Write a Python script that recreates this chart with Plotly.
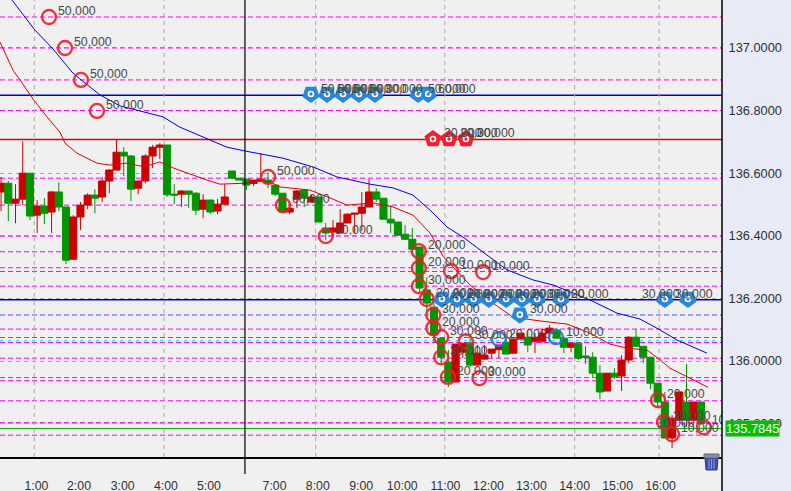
"""
Intraday candlestick chart with trade markers and price levels.
"""

import plotly.graph_objects as go

FONT = "Liberation Sans"

# candles, one per bar
opens = [136.540, 136.568, 136.504, 136.517, 136.600, 136.466, 136.495, 136.476, 136.540, 136.492,
         136.325, 136.460, 136.498, 136.530, 136.524, 136.575, 136.610, 136.667, 136.655, 136.552,
         136.575, 136.655, 136.683, 136.690, 136.533, 136.533, 136.543, 136.536, 136.485, 136.514,
         136.479, 136.501, 136.607, 136.584, 136.581, 136.567, 136.575, 136.578, 136.562, 136.536,
         136.476, 136.517, 136.546, 136.508, 136.524, 136.425, 136.412, 136.409, 136.441, 136.469,
         136.472, 136.492, 136.540, 136.520, 136.453, 136.444, 136.405, 136.389, 136.364, 136.227,
         136.172, 136.073, 135.996, 135.933, 136.028, 136.057, 135.987, 136.006, 136.025, 136.036,
         136.060, 136.025, 136.070, 136.076, 136.063, 136.063, 136.089, 136.099, 136.073, 136.044,
         136.057, 136.016, 136.012, 135.961, 135.904, 135.961, 135.952, 136.003, 136.076, 136.047,
         136.012, 135.929, 135.869, 135.754, 135.811, 135.869, 135.811, 135.869]
highs = [136.588, 136.575, 136.565, 136.702, 136.600, 136.514, 136.520, 136.543, 136.571, 136.492,
         136.466, 136.508, 136.536, 136.549, 136.588, 136.613, 136.706, 136.683, 136.658, 136.575,
         136.661, 136.690, 136.696, 136.690, 136.565, 136.546, 136.543, 136.540, 136.533, 136.517,
         136.517, 136.565, 136.607, 136.584, 136.581, 136.578, 136.664, 136.603, 136.562, 136.536,
         136.501, 136.546, 136.546, 136.533, 136.524, 136.441, 136.450, 136.485, 136.472, 136.472,
         136.540, 136.581, 136.552, 136.520, 136.498, 136.444, 136.434, 136.425, 136.364, 136.268,
         136.185, 136.076, 136.035, 136.054, 136.057, 136.083, 136.051, 136.051, 136.038, 136.051,
         136.073, 136.073, 136.089, 136.099, 136.089, 136.105, 136.115, 136.105, 136.073, 136.057,
         136.057, 136.047, 136.028, 135.987, 135.961, 135.977, 136.019, 136.079, 136.102, 136.047,
         136.012, 135.929, 135.901, 135.827, 135.901, 135.990, 135.869, 135.869]
lows = [136.479, 136.447, 136.440, 136.498, 136.450, 136.409, 136.437, 136.409, 136.479, 136.310,
        136.325, 136.418, 136.485, 136.472, 136.508, 136.536, 136.610, 136.591, 136.511, 136.533,
        136.568, 136.616, 136.645, 136.524, 136.501, 136.492, 136.489, 136.466, 136.456, 136.469,
        136.469, 136.501, 136.584, 136.578, 136.546, 136.559, 136.575, 136.552, 136.527, 136.472,
        136.469, 136.488, 136.492, 136.508, 136.444, 136.386, 136.396, 136.409, 136.441, 136.409,
        136.415, 136.492, 136.508, 136.453, 136.409, 136.399, 136.386, 136.354, 136.220, 136.156,
        136.057, 135.993, 135.917, 135.933, 136.009, 135.980, 135.987, 136.003, 136.009, 136.009,
        136.022, 136.025, 136.070, 136.028, 136.025, 136.057, 136.063, 136.073, 136.025, 136.028,
        136.003, 135.990, 135.949, 135.878, 135.904, 135.942, 135.904, 135.993, 136.047, 135.993,
        135.910, 135.853, 135.754, 135.722, 135.811, 135.789, 135.811, 135.795]
closes = [136.568, 136.504, 136.517, 136.600, 136.463, 136.495, 136.472, 136.540, 136.492, 136.322,
          136.460, 136.498, 136.530, 136.520, 136.575, 136.610, 136.667, 136.655, 136.549, 136.575,
          136.655, 136.683, 136.690, 136.531, 136.530, 136.543, 136.533, 136.482, 136.514, 136.476,
          136.501, 136.524, 136.584, 136.578, 136.562, 136.578, 136.581, 136.568, 136.533, 136.476,
          136.488, 136.543, 136.520, 136.524, 136.444, 136.409, 136.425, 136.441, 136.469, 136.472,
          136.492, 136.540, 136.517, 136.453, 136.441, 136.402, 136.389, 136.357, 136.233, 136.185,
          136.083, 136.012, 135.933, 136.054, 136.057, 135.987, 136.025, 136.019, 136.038, 136.051,
          136.022, 136.070, 136.089, 136.051, 136.076, 136.089, 136.105, 136.073, 136.044, 136.057,
          136.009, 136.012, 135.961, 135.901, 135.961, 135.949, 136.003, 136.076, 136.047, 136.012,
          135.929, 135.869, 135.754, 135.817, 135.901, 135.811, 135.869, 135.801]

# moving averages, read at sample bars
ma_slow_x = [1.51, 4.70, 7.19, 9.83, 10.93, 13.71, 16.48, 18.84, 22.44, 24.79, 28.54, 31.31, 33.8,
             35.88, 39.07, 43.23, 46.56, 51.13, 54.32, 57.09, 59.45, 61.8, 64.02, 66.79, 70.12,
             73.72, 76.5, 81.62, 85.36, 88.55, 90.9, 93.68, 97.84]
ma_slow_y = [137.153, 137.057, 136.997, 136.923, 136.901, 136.850, 136.815, 136.802, 136.780, 136.747,
             136.709, 136.683, 136.671, 136.661, 136.648, 136.620, 136.588, 136.565, 136.553, 136.530,
             136.482, 136.428, 136.396, 136.348, 136.291, 136.259, 136.243, 136.195, 136.153, 136.134,
             136.105, 136.067, 136.025]
ma_fast_x = [-0.15, 1.65, 2.62, 4.42, 6.36, 8.16, 8.86, 10.52, 13.29, 15.09, 17.45, 19.25, 20.64,
             22.02, 23.82, 26.18, 28.54, 30.34, 33.8, 35.88, 37.27, 38.66, 42.81, 45.59, 47.94,
             51.54, 54.32, 57.09, 59.45, 61.24, 64.99, 68.18, 70.95, 74.69, 78.43, 81.62, 84.39,
             86.75, 89.52, 91.05, 92.71, 95.48, 97.97]
ma_fast_y = [137.019, 136.929, 136.898, 136.837, 136.780, 136.731, 136.696, 136.664, 136.632, 136.626,
             136.632, 136.623, 136.626, 136.636, 136.617, 136.597, 136.578, 136.565, 136.568, 136.575,
             136.572, 136.556, 136.546, 136.521, 136.498, 136.505, 136.492, 136.466, 136.409, 136.335,
             136.243, 136.185, 136.140, 136.128, 136.118, 136.089, 136.054, 136.041, 136.035, 136.009,
             135.977, 135.945, 135.916]

# price levels
magenta_levels = [137.099, 137.000, 136.898, 136.800, 136.584, 136.498, 136.399, 136.349, 136.298,
                  136.286, 136.239, 136.147, 136.102, 136.075, 136.059, 136.009, 135.947, 135.937,
                  135.873, 135.803, 135.763]
cyan_levels = [136.147, 136.065]
blue_levels = [136.849, 136.196]
red_levels = [136.708]
last_price = 135.7845

# closed trades, red and blue rings
ring_x = [6.64, 8.86, 11.07, 13.29, 37.0, 39.07, 45.0, 57.9, 57.9, 57.9, 59.0, 59.9, 59.9, 61.0, 61.0,
          61.94, 62.36, 66.8, 64.4, 66.3, 91.05, 91.88, 93.0, 97.4]
ring_y = [137.099, 137.000, 136.898, 136.799, 136.588, 136.498, 136.399, 136.351, 136.297, 136.239,
          136.198, 136.147, 136.105, 136.076, 136.012, 135.949, 136.287, 136.284, 136.063, 135.945,
          135.875, 135.805, 135.766, 135.788]
ring_text = ["50,000", "50,000", "50,000", "50,000", "50,000", "60,000", "30,000", "20,000", "20,000",
             "30,000", "20,000", "30,000", "20,000", "30,000", "30,000", "20,000", "10,000", "10,000",
             "30,000", "30,000", "20,000", "30,000", "10,000"]
blue_ring_x = [69.0, 76.9]
blue_ring_y = [136.070, 136.076]
blue_ring_text = ["20,000", "10,000"]

# labels without a ring of their own; the last one runs into the axis and is clipped
hidden_label_x = [91.05]
hidden_label_y = [135.803]
hidden_label_text = ["10,000"]
clipped_label_x = [98.5]
clipped_label_y = [135.809]
clipped_label_text = ["10,000"]

# open orders, pins
pin_x = [42.95, 45.17, 47.39, 49.6, 51.82, 57.8, 59.2,
         61.1, 63.2, 65.5, 67.6, 70.0, 72.2, 74.3, 77.6, 71.9]
pin_y = [136.853] * 7 + [136.198] * 8 + [136.148]
pin_text = ["50,000", "50,000", "50,000", "50,000", "30,000", "50,000", "60,000",
            "20,000", "20,000", "20,000", "20,000", "20,000", "20,000", "30,000", "20,000", "30,000"]
pin_right_x = [92.0, 95.2]
pin_right_y = [136.198, 136.198]
pin_right_text = ["30,000", "30,000"]
pin_right_dx = [-25, -15]
house_x = [59.86, 62.08, 64.43]
house_y = [136.709, 136.709, 136.709]
house_text = ["20,000", "20,000", "30,000"]

# axes
tick_labels = ["1:00", "2:00", "3:00", "4:00", "5:00", "7:00", "8:00", "9:00", "10:00", "11:00",
               "12:00", "13:00", "14:00", "15:00", "16:00"]
tick_bars = [4.9, 10.8, 16.85, 22.85, 28.8, 37.9, 43.9, 49.9, 55.6, 61.6, 67.55, 73.5, 79.5, 85.45, 91.4]
grid_bars = [4.6, 22.6, 43.6, 61.5, 79.5, 91.2]
cursor_bar = 33.8
price_ticks = [137.0, 136.8, 136.6, 136.4, 136.2, 136.0, 135.8]
x_range = [-0.15, 99.92]
y_range = [135.6933, 137.1533]

bars = list(range(len(opens)))


def add_labels(fig, xs, ys, texts, dx, dy):
    """Small quantity labels placed beside the markers."""
    offsets = dx if isinstance(dx, list) else [dx] * len(xs)
    for x, y, text, off in zip(xs, ys, texts, offsets):
        fig.add_annotation(
            x=x, y=y, text=text, showarrow=False, xanchor='left', yanchor='middle',
            xshift=off, yshift=dy, font=dict(family=FONT, size=12.3, color='#484848')
        )


def add_pins(fig, xs, ys, color, angle):
    """Pin shaped order marker with a ring in the middle."""
    fig.add_trace(go.Scatter(
        x=xs, y=ys, mode='markers', hoverinfo='skip', cliponaxis=False,
        marker=dict(symbol='pentagon', size=18, color=color, angle=angle, line=dict(width=0))
    ))
    fig.add_trace(go.Scatter(
        x=xs, y=ys, mode='markers', hoverinfo='skip',
        marker=dict(symbol='circle', size=5, color=color, line=dict(color='white', width=1.6))
    ))


def add_level(fig, level, color, width, dash='solid'):
    """Horizontal price level across the whole plot."""
    fig.add_shape(type='line', xref='x', yref='y', x0=x_range[0], x1=x_range[1], y0=level, y1=level,
                  layer='between', line=dict(color=color, width=width, dash=dash))


fig = go.Figure()

fig.add_trace(go.Candlestick(
    x=bars, open=opens, high=highs, low=lows, close=closes, hoverinfo='skip',
    increasing=dict(line=dict(color='#cc0000', width=1), fillcolor='#cc0000'),
    decreasing=dict(line=dict(color='#009600', width=1), fillcolor='#009600'),
    whiskerwidth=0
))

fig.add_trace(go.Scatter(x=ma_slow_x, y=ma_slow_y, mode='lines', hoverinfo='skip',
                         line=dict(color='#0000e6', width=1)))
fig.add_trace(go.Scatter(x=ma_fast_x, y=ma_fast_y, mode='lines', hoverinfo='skip',
                         line=dict(color='#e60000', width=1)))

fig.add_trace(go.Scatter(
    x=ring_x, y=ring_y, mode='markers', hoverinfo='skip',
    marker=dict(symbol='circle', size=14, color='rgba(0,0,0,0)',
                line=dict(color='rgba(240,28,40,0.9)', width=2.3))
))
fig.add_trace(go.Scatter(
    x=blue_ring_x, y=blue_ring_y, mode='markers', hoverinfo='skip',
    marker=dict(symbol='circle', size=14, color='rgba(0,0,0,0)',
                line=dict(color='rgba(30,120,210,0.9)', width=2.3))
))

add_pins(fig, pin_x + pin_right_x, pin_y + pin_right_y, '#2b87d8', 180)
add_pins(fig, house_x, house_y, '#f2202e', 0)

fig.add_trace(go.Scatter(
    x=clipped_label_x, y=clipped_label_y, mode='text', text=clipped_label_text, hoverinfo='skip',
    textposition='middle right', textfont=dict(family=FONT, size=12.3, color='#484848')
))

add_labels(fig, ring_x, ring_y, ring_text, 7, 6)
add_labels(fig, blue_ring_x, blue_ring_y, blue_ring_text, 8, 5)
add_labels(fig, hidden_label_x, hidden_label_y, hidden_label_text, -3, 0)
add_labels(fig, pin_x, pin_y, pin_text, 8, 5.5)
add_labels(fig, pin_right_x, pin_right_y, pin_right_text, pin_right_dx, 5.5)
add_labels(fig, house_x, house_y, house_text, 9, 6)

# horizontal levels
for level in magenta_levels:
    add_level(fig, level, '#ff00ff', 1, '5px,3px')
for level in cyan_levels:
    add_level(fig, level, '#00e8e8', 1, '3px,5px')
for level in blue_levels:
    add_level(fig, level, '#0000e0', 1.5)
for level in red_levels:
    add_level(fig, level, '#e00000', 1.5)
add_level(fig, last_price, '#00b000', 1)

# vertical grid
for bar in grid_bars:
    fig.add_shape(type='line', xref='x', yref='y', x0=bar, x1=bar, y0=y_range[0], y1=y_range[1],
                  layer='between', line=dict(color='#a8a8a8', width=1, dash='4px,4px'))

# cursor and panel edges run past the plot area
fig.add_shape(type='line', xref='x', yref='paper', x0=cursor_bar, x1=cursor_bar, y0=-17 / 457, y1=1,
              line=dict(color='black', width=1.2))
fig.add_shape(type='rect', xref='paper', yref='paper', x0=0, x1=1, y0=-34 / 457, y1=0,
              fillcolor='#f0f0f0', line=dict(width=0), layer='below')
fig.add_shape(type='line', xref='paper', yref='paper', x0=1, x1=1, y0=-34 / 457, y1=1,
              line=dict(color='black', width=1.5))

# trash can
trash = dict(xref='paper', yref='paper', xanchor=1, yanchor=0, xsizemode='pixel', ysizemode='pixel')
fig.add_shape(type='path', path='M -17 -1 L -4 -1 L -5 -13 L -16 -13 Z', fillcolor='#3b4fb5',
              line=dict(color='#2c3c90', width=1), **trash)
fig.add_shape(type='path', path='M -18 3 L -3 3 L -3 -1 L -18 -1 Z', fillcolor='#8a8fa8',
              line=dict(color='#60657a', width=1), **trash)
for offset in (-13, -10.5, -8):
    fig.add_shape(type='path', path=f'M {offset} -2 L {offset} -12', line=dict(color='#8c9be0', width=1), **trash)

# last price tag
fig.add_annotation(
    xref='paper', yref='y', x=1, y=last_price, text="135.7845", showarrow=False,
    xanchor='left', yanchor='middle', xshift=3, bgcolor='#00c000', borderpad=0,
    font=dict(family=FONT, size=12.8, color='white')
)

fig.update_layout(
    width=791,
    height=491,
    margin=dict(l=0, r=69, t=0, b=34),
    plot_bgcolor='#f0f0f0',
    paper_bgcolor='#e8ebf5',
    showlegend=False,
    boxgap=0.02,
    boxgroupgap=0,
    xaxis=dict(
        range=x_range, rangeslider=dict(visible=False), showgrid=False, zeroline=False,
        automargin=False, tickmode='array', tickvals=tick_bars, ticktext=tick_labels,
        ticks='outside', ticklen=16, tickcolor='rgba(0,0,0,0)', showline=True, linecolor='black',
        linewidth=1.5, tickfont=dict(family=FONT, size=12.3, color='#303030')
    ),
    yaxis=dict(
        range=y_range, side='right', automargin=False, tickmode='array', tickvals=price_ticks,
        ticktext=[f"{p:.4f}" for p in price_ticks], ticks='outside', ticklen=3,
        tickcolor='rgba(0,0,0,0)', showgrid=True, gridcolor='#a8a8a8', griddash='4px,4px',
        gridwidth=1, zeroline=False, tickfont=dict(family=FONT, size=12.8, color='#303030')
    )
)

fig.write_html("out.html", config={'displayModeBar': False}, post_script="document.body.style.margin = '0';")
